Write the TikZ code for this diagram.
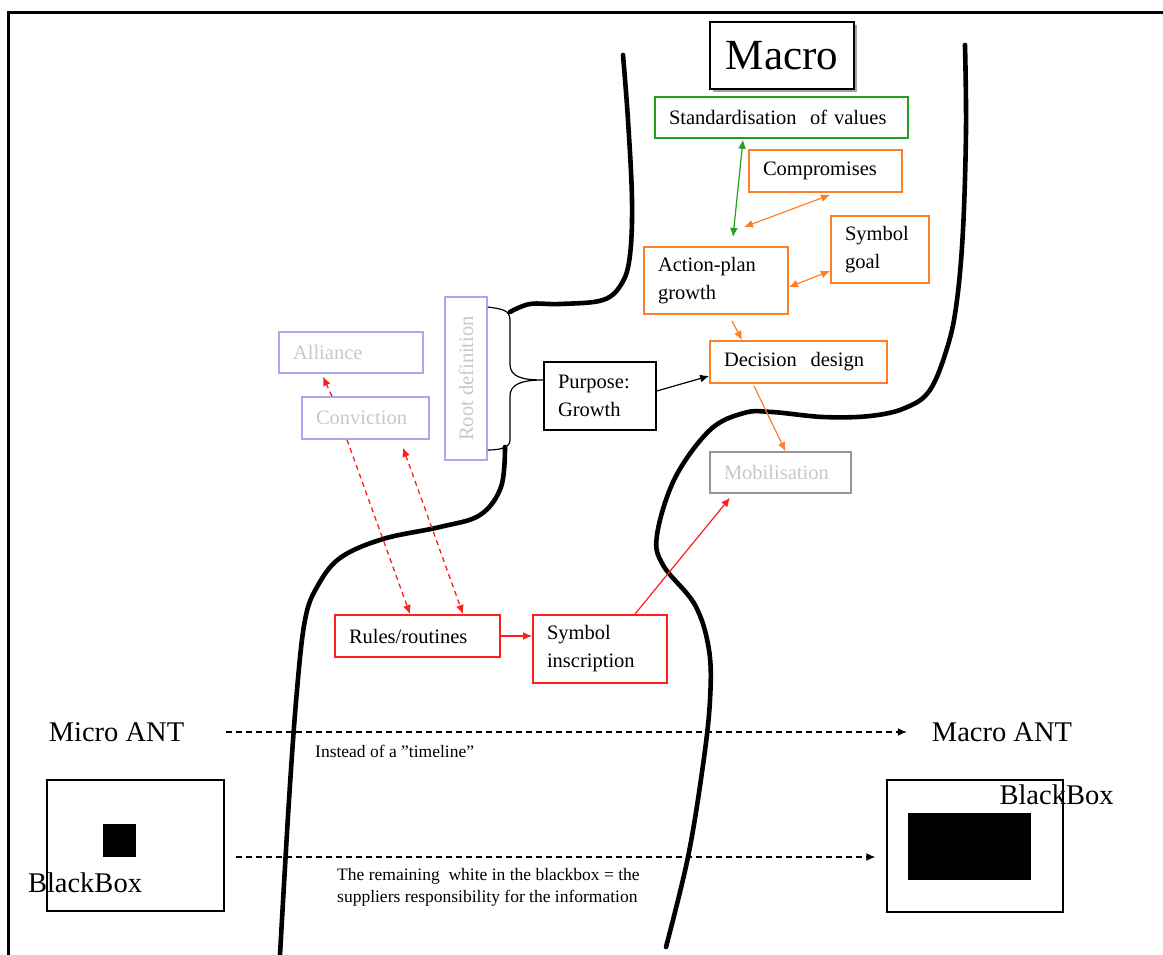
\documentclass[tikz,border=0pt]{standalone}
\usepackage{fontspec}
\setmainfont{Liberation Serif}
\usetikzlibrary{arrows.meta,shadows}

\definecolor{antorange}{RGB}{255,127,39}
\definecolor{antgreen}{RGB}{34,160,34}
\definecolor{antred}{RGB}{255,30,30}
\definecolor{antlav}{RGB}{168,168,240}
\definecolor{faint}{RGB}{200,200,200}
\definecolor{mobgray}{RGB}{150,150,150}

\newcommand{\boxfont}{\fontsize{20.5}{28}\selectfont}
\newcommand{\bigfont}{\fontsize{28.5}{34}\selectfont}
\newcommand{\notefont}{\fontsize{17.5}{22}\selectfont}

\begin{document}
\begin{tikzpicture}[x=1pt,y=-1pt,
  box/.style={draw, line width=1.5pt, inner ysep=0pt, inner xsep=14pt,
              font=\boxfont, align=left},
  greenbox/.style={box, draw=antgreen},
  orangebox/.style={box, draw=antorange, line width=1.9pt},
  redbox/.style={box, draw=antred, line width=1.9pt},
  lavbox/.style={box, draw=antlav, text=faint},
  greybox/.style={box, draw=mobgray, text=faint},
  blackbox/.style={box, draw=black},
  label/.style={inner sep=0pt},
  ridge/.style={line width=4.6pt, line cap=round, line join=round},
  tip/.style={-{Latex[length=9pt,width=8pt]}},
  bitip/.style={{Latex[length=9pt,width=8pt]}-{Latex[length=9pt,width=8pt]}},
  link/.style={line width=1.2pt},
  redlink/.style={line width=1.3pt, draw=antred, dash pattern=on 5pt off 4pt},
  timelink/.style={line width=1.2pt, dash pattern=on 6pt off 4pt}
]
\useasboundingbox (0,0) rectangle (1163,955);

% outer frame (top and left edges)
\draw[line width=3pt] (8.5,955) -- (8.5,12.5) -- (1163,12.5);

% ridges separating micro and macro zones
\draw[ridge] plot[smooth, tension=0.6] coordinates {
  (623,55) (628,120) (632,200) (630,255) (622,283) (603,300) (560,304) (530,304) (510,312)};
\draw[ridge] plot[smooth, tension=0.6] coordinates {
  (505,447) (501,487) (480,515) (440,527) (383,539) (340,558) (317,587) (305,620)
  (297,690) (289,800) (280,955)};
\draw[ridge] plot[smooth, tension=0.6] coordinates {
  (965,45) (966,130) (963,230) (957,300) (948,345) (930,390) (905,408) (870,416)
  (823,417) (772,412) (744,413) (710,430) (675,478) (657,535) (663,565) (695,605)
  (709,650) (710,700) (703,765) (688,857) (666,947)};

% macro title
\node[draw, line width=1.8pt, fill=white, inner sep=0pt,
      minimum width=144pt, minimum height=67pt,
      font=\fontsize{43}{50}\selectfont,
      drop shadow={shadow xshift=3pt, shadow yshift=-3pt, fill=gray!70, opacity=1}]
      (macro) at (782,55.5) {Macro};

% boxes
\node[greenbox, minimum width=253pt, minimum height=41pt, text width=225pt]
  (stdv) at (781.5,117.5) {Standardisation\ \ of values};
\node[orangebox, minimum width=153pt, minimum height=42pt, text width=125pt]
  (comp) at (825.5,171) {Compromises};
\node[orangebox, minimum width=98pt, minimum height=67pt, text width=70pt]
  (symgoal) at (880,249.5) {Symbol\\goal};
\node[orangebox, minimum width=144pt, minimum height=67pt, text width=116pt]
  (action) at (716,280.5) {Action-plan\\growth};
\node[orangebox, minimum width=177pt, minimum height=42pt, text width=149pt]
  (decision) at (798.5,362) {Decision\ \ design};
\node[greybox, minimum width=141pt, minimum height=41pt, text width=113pt]
  (mobil) at (780.5,472.5) {Mobilisation};
\node[blackbox, minimum width=112pt, minimum height=68pt, text width=84pt]
  (purpose) at (600,396) {Purpose:\\Growth};
\node[lavbox, minimum width=42pt, minimum height=163pt, inner xsep=0pt, align=center]
  (rootdef) at (466,378.5) {\rotatebox{90}{Root definition}};
\node[lavbox, minimum width=144pt, minimum height=41pt, text width=116pt]
  (alliance) at (351,352.5) {Alliance};
\node[lavbox, minimum width=127pt, minimum height=42pt, text width=99pt]
  (convict) at (365.5,418) {Conviction};
\node[redbox, minimum width=165pt, minimum height=42pt, text width=137pt]
  (rules) at (417.5,636) {Rules/routines};
\node[redbox, minimum width=134pt, minimum height=68pt, text width=106pt]
  (symins) at (600,649) {Symbol\\inscription};

% brace gathering the root definition into the purpose
\draw[line width=1.2pt]
  ([yshift=71.5pt]rootdef.east) .. controls (502,309) and (510,310) .. (510,320)
  -- (510,364) .. controls (510,377) and (522,380) .. ([yshift=16pt]purpose.west)
  .. controls (522,380) and (510,384) .. (510,396)
  -- (510,440) .. controls (510,447) and (502,450) .. ([yshift=-71.5pt]rootdef.east);

% connectors
\coordinate (gtip) at (733,237);
\coordinate (ctip) at (744,227);
\draw[link, antgreen, bitip] ([xshift=-38.5pt,yshift=-1pt]stdv.south) -- (gtip);
\draw[link, antorange, bitip] ([xshift=4.5pt,yshift=-2pt]comp.south) -- (ctip);
\draw[link, antorange, bitip] ([yshift=-21.5pt]symgoal.west) -- ([yshift=-6.5pt]action.east);
\draw[link, antorange, tip] ([xshift=16pt,yshift=-6pt]action.south) -- ([xshift=-56.5pt]decision.north);
\draw[link, antorange, tip] ([xshift=-44.5pt,yshift=-2pt]decision.south) -- ([xshift=5pt]mobil.north);
\draw[link, black, tip] ([yshift=5pt]purpose.east) -- ([yshift=-14pt]decision.west);
\draw[link, antred, tip] (rules.east) -- (rules.east -| symins.west);
\draw[link, antred, tip] ([xshift=35pt]symins.north) -- ([xshift=-50.5pt,yshift=-4pt]mobil.south);
\draw[redlink, tip] ([xshift=-33.5pt]convict.north) -- ([xshift=-28pt,yshift=-3pt]alliance.south);
\draw[redlink, tip] ([xshift=-18.5pt]convict.south) -- ([xshift=-7.5pt]rules.north);
\draw[redlink, bitip] ([xshift=37.5pt,yshift=-8pt]convict.south) -- ([xshift=45.5pt]rules.north);

% micro / macro ANT
\node[label, font=\bigfont] (microant) at (116.5,732) {Micro ANT};
\node[label, font=\bigfont] (macroant) at (1002,732) {Macro ANT};
\draw[timelink, tip] ([xshift=42pt]microant.east) -- ([xshift=-25pt]macroant.west);
\node[label, font=\notefont, anchor=west] (timenote) at (315,751) {Instead of a ''timeline''};

% black boxes
\node[draw, line width=1.5pt, minimum width=177pt, minimum height=131pt, inner sep=0pt]
  (lbox) at (135.5,845.5) {};
\node[fill=black, minimum width=33pt, minimum height=33pt, inner sep=0pt]
  (lsq) at (119.5,840.5) {};
\node[draw, line width=1.5pt, minimum width=176pt, minimum height=132pt, inner sep=0pt]
  (rbox) at (975,846) {};
\node[fill=black, minimum width=123pt, minimum height=67pt, inner sep=0pt]
  (rsq) at (969.5,846.5) {};
\node[label, font=\bigfont] (lblack) at (85,883) {BlackBox};
\node[label, font=\bigfont] (rblack) at (1056.5,795) {BlackBox};
\draw[timelink, tip] ([xshift=11pt,yshift=-11.5pt]lbox.east) -- ([xshift=-11pt]rbox.west |- 0,857);
\node[label, font=\notefont, anchor=west, align=left] (whitenote) at (337,887)
  {The remaining\ \ white in the blackbox = the\\suppliers responsibility for the information};

\end{tikzpicture}
\end{document}
